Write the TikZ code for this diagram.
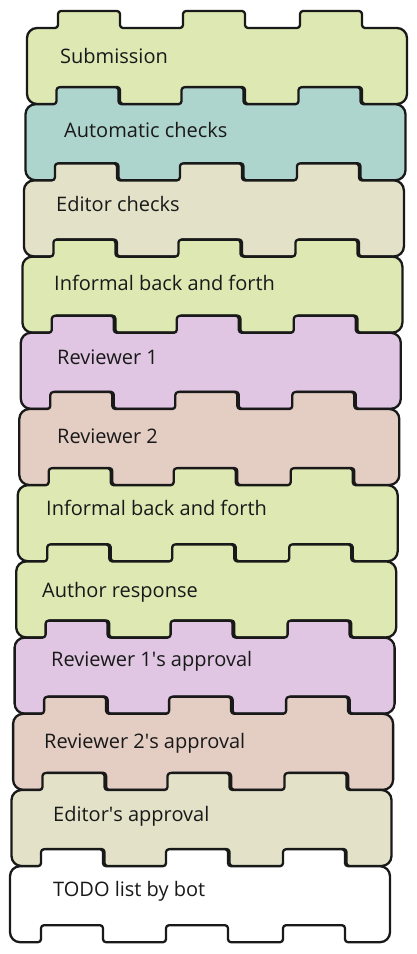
\documentclass[tikz,border=0pt]{standalone}
\usepackage{fontspec}
\setmainfont{Open Sans}
\usepackage{tikz}

\definecolor{stepgreen}{RGB}{221,232,179}
\definecolor{stepteal}{RGB}{174,213,205}
\definecolor{stepbeige}{RGB}{227,226,201}
\definecolor{steplilac}{RGB}{224,198,226}
\definecolor{steprose}{RGB}{228,206,196}

\tikzset{
	piece/.pic={
		\path[pic actions] (0,38) [rounded corners=10pt] -- (0,0) [rounded corners=3pt]
			-- (31,0) -- (31,-17) -- (93,-17) -- (93,0)
			-- (156,0) -- (156,-17) -- (218,-17) -- (218,0)
			-- (273,0) -- (273,-17) -- (335,-17) -- (335,0) [rounded corners=10pt]
			-- (380,0) -- (380,76) [rounded corners=3pt]
			-- (335,76) -- (335,59) -- (273,59) -- (273,76)
			-- (218,76) -- (218,59) -- (156,59) -- (156,76)
			-- (93,76) -- (93,59) -- (31,59) -- (31,76) [rounded corners=10pt]
			-- (0,76) -- cycle;
	},
	blk/.style={draw=black!90, line width=2.3pt, line join=round},
	lbl/.style={anchor=west, inner sep=0pt, text=black!90,
		font=\fontsize{20}{22}\selectfont}
}

\begin{document}
\begin{tikzpicture}[x=1pt,y=-1pt]
			\useasboundingbox (0,0) rectangle (417,954);
			%
			\pic[blk,fill=stepgreen] at (27,28) {piece};
			\node[lbl] (sub) at (60,56) {Submission};
			\pic[blk,fill=stepteal] at (25.5,104.2) {piece};
			\node[lbl] (auto) at (64,130) {Automatic checks};
			\pic[blk,fill=stepbeige] at (23.9,180.4) {piece};
			\node[lbl] (edchk) at (56,204) {Editor checks};
			\pic[blk,fill=stepgreen] at (22.4,256.6) {piece};
			\node[lbl] (inf1) at (54,283) {Informal back and forth};
			\pic[blk,fill=steplilac] at (20.8,332.8) {piece};
			\node[lbl] (rev1) at (57,357) {Reviewer 1};
			\pic[blk,fill=steprose] at (19.3,409) {piece};
			\node[lbl] (rev2) at (57,436) {Reviewer 2};
			\pic[blk,fill=stepgreen] at (17.7,485.2) {piece};
			\node[lbl] (inf2) at (46,508) {Informal back and forth};
			\pic[blk,fill=stepgreen] at (16.2,561.4) {piece};
			\node[lbl] (resp) at (42,592) {Author response};
			\pic[blk,fill=steplilac] at (14.6,637.6) {piece};
			\node[lbl] (app1) at (51,661) {Reviewer 1\textquotesingle s approval};
			\pic[blk,fill=steprose] at (13.1,713.8) {piece};
			\node[lbl] (app2) at (44,743) {Reviewer 2\textquotesingle s approval};
			\pic[blk,fill=stepbeige] at (11.5,790) {piece};
			\node[lbl] (edapp) at (53,816) {Editor\textquotesingle s approval};
			\pic[blk,fill=white] at (10,866.2) {piece};
			\node[lbl] (todo) at (53,891) {TODO list by bot};
		\end{tikzpicture}
\end{document}
